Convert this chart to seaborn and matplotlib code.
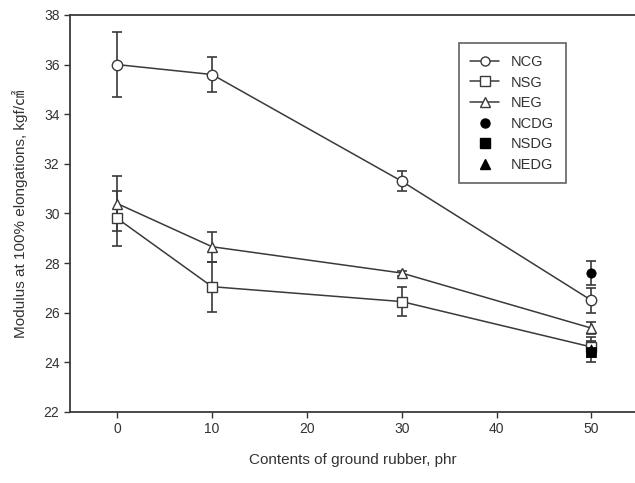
import matplotlib
matplotlib.use("Agg")
import matplotlib.pyplot as plt
import seaborn as sns
import pandas as pd
from matplotlib.lines import Line2D

sns.set_theme(style="ticks")
plt.rcParams['font.family'] = ['Liberation Sans', 'Noto Sans CJK KR', 'DejaVu Sans']

contents = [0, 10, 30, 50]
ncg = [36.0, 35.6, 31.3, 26.5]
ncg_err = [1.3, 0.7, 0.4, 0.5]
nsg = [29.8, 27.05, 26.45, 24.62]
nsg_err = [1.1, 1.0, 0.6, 0.4]
neg = [30.4, 28.66, 27.6, 25.38]
neg_err = [1.1, 0.6, 0.1, 0.25]

dg_x = [50]
ncdg = [27.6]
ncdg_err = [0.5]
nsdg = [24.42]
nsdg_err = [0.4]
nedg = [24.55]
nedg_err = [0.3]

color = "#3a3a3a"

df = pd.concat([
    pd.DataFrame({"x": contents, "y": ncg, "s": "NCG"}),
    pd.DataFrame({"x": contents, "y": nsg, "s": "NSG"}),
    pd.DataFrame({"x": contents, "y": neg, "s": "NEG"}),
])

fig = plt.figure(figsize=(6.35, 4.83), dpi=100)
ax = fig.add_axes([0.110, 0.147, 0.890, 0.822])

# error bars
for ys, es in [(ncg, ncg_err), (nsg, nsg_err), (neg, neg_err)]:
    ax.errorbar(contents, ys, yerr=es, fmt="none", ecolor=color, elinewidth=1.2,
                capsize=3.5, capthick=1.2, zorder=2)
for ys, es in [(ncdg, ncdg_err), (nsdg, nsdg_err), (nedg, nedg_err)]:
    ax.errorbar(dg_x, ys, yerr=es, fmt="none", ecolor=color, elinewidth=1.2,
                capsize=3.5, capthick=1.2, zorder=2)

sns.lineplot(data=df, x="x", y="y", hue="s", style="s",
             palette={"NCG": color, "NSG": color, "NEG": color},
             markers={"NCG": "o", "NSG": "s", "NEG": "^"},
             dashes=False, markersize=7.5, markerfacecolor="white",
             markeredgecolor=color, markeredgewidth=1.0, linewidth=1.1,
             legend=False, ax=ax, zorder=3)

sns.scatterplot(x=dg_x, y=ncdg, marker="o", color="black", s=45, edgecolor="black", ax=ax, zorder=4)
sns.scatterplot(x=dg_x, y=nsdg, marker="s", color="black", s=45, edgecolor="black", ax=ax, zorder=4)
sns.scatterplot(x=dg_x, y=nedg, marker="^", color="black", s=45, edgecolor="black", ax=ax, zorder=4)

ax.set_xlim(-5, 54.6)
ax.set_ylim(22, 38)
ax.set_xticks([0, 10, 20, 30, 40, 50])
ax.set_yticks(list(range(22, 39, 2)))
ax.tick_params(axis="both", labelsize=10, colors="#333333", length=4, width=1.0, direction="out")
for sp in ["left", "bottom", "top"]:
    ax.spines[sp].set_color(color)
    ax.spines[sp].set_linewidth(1.3)
ax.spines["right"].set_visible(False)

ax.set_xlabel("Contents of ground rubber, phr", fontsize=11, color="#333333", labelpad=12)
ax.set_ylabel("Modulus at 100% elongations, kgf/㎠", fontsize=11, color="#333333", labelpad=11)

handles = [
    Line2D([], [], color=color, marker="o", markerfacecolor="white", markeredgecolor=color, markersize=6.5, lw=1.1),
    Line2D([], [], color=color, marker="s", markerfacecolor="white", markeredgecolor=color, markersize=6.5, lw=1.1),
    Line2D([], [], color=color, marker="^", markerfacecolor="white", markeredgecolor=color, markersize=6.5, lw=1.1),
    Line2D([], [], color="black", marker="o", markersize=6.5, lw=0),
    Line2D([], [], color="black", marker="s", markersize=6.5, lw=0),
    Line2D([], [], color="black", marker="^", markersize=6.5, lw=0),
]
labels = ["NCG", "NSG", "NEG", "NCDG", "NSDG", "NEDG"]
leg = ax.legend(handles, labels, loc="upper left", bbox_to_anchor=(0.675, 0.947),
                fontsize=10.5, frameon=True, fancybox=False, edgecolor=color,
                handlelength=2.0, labelspacing=0.45, borderpad=0.8)
leg.get_frame().set_linewidth(1.2)
for t in leg.get_texts():
    t.set_color("#333333")

fig.savefig("out.png", dpi=100)
